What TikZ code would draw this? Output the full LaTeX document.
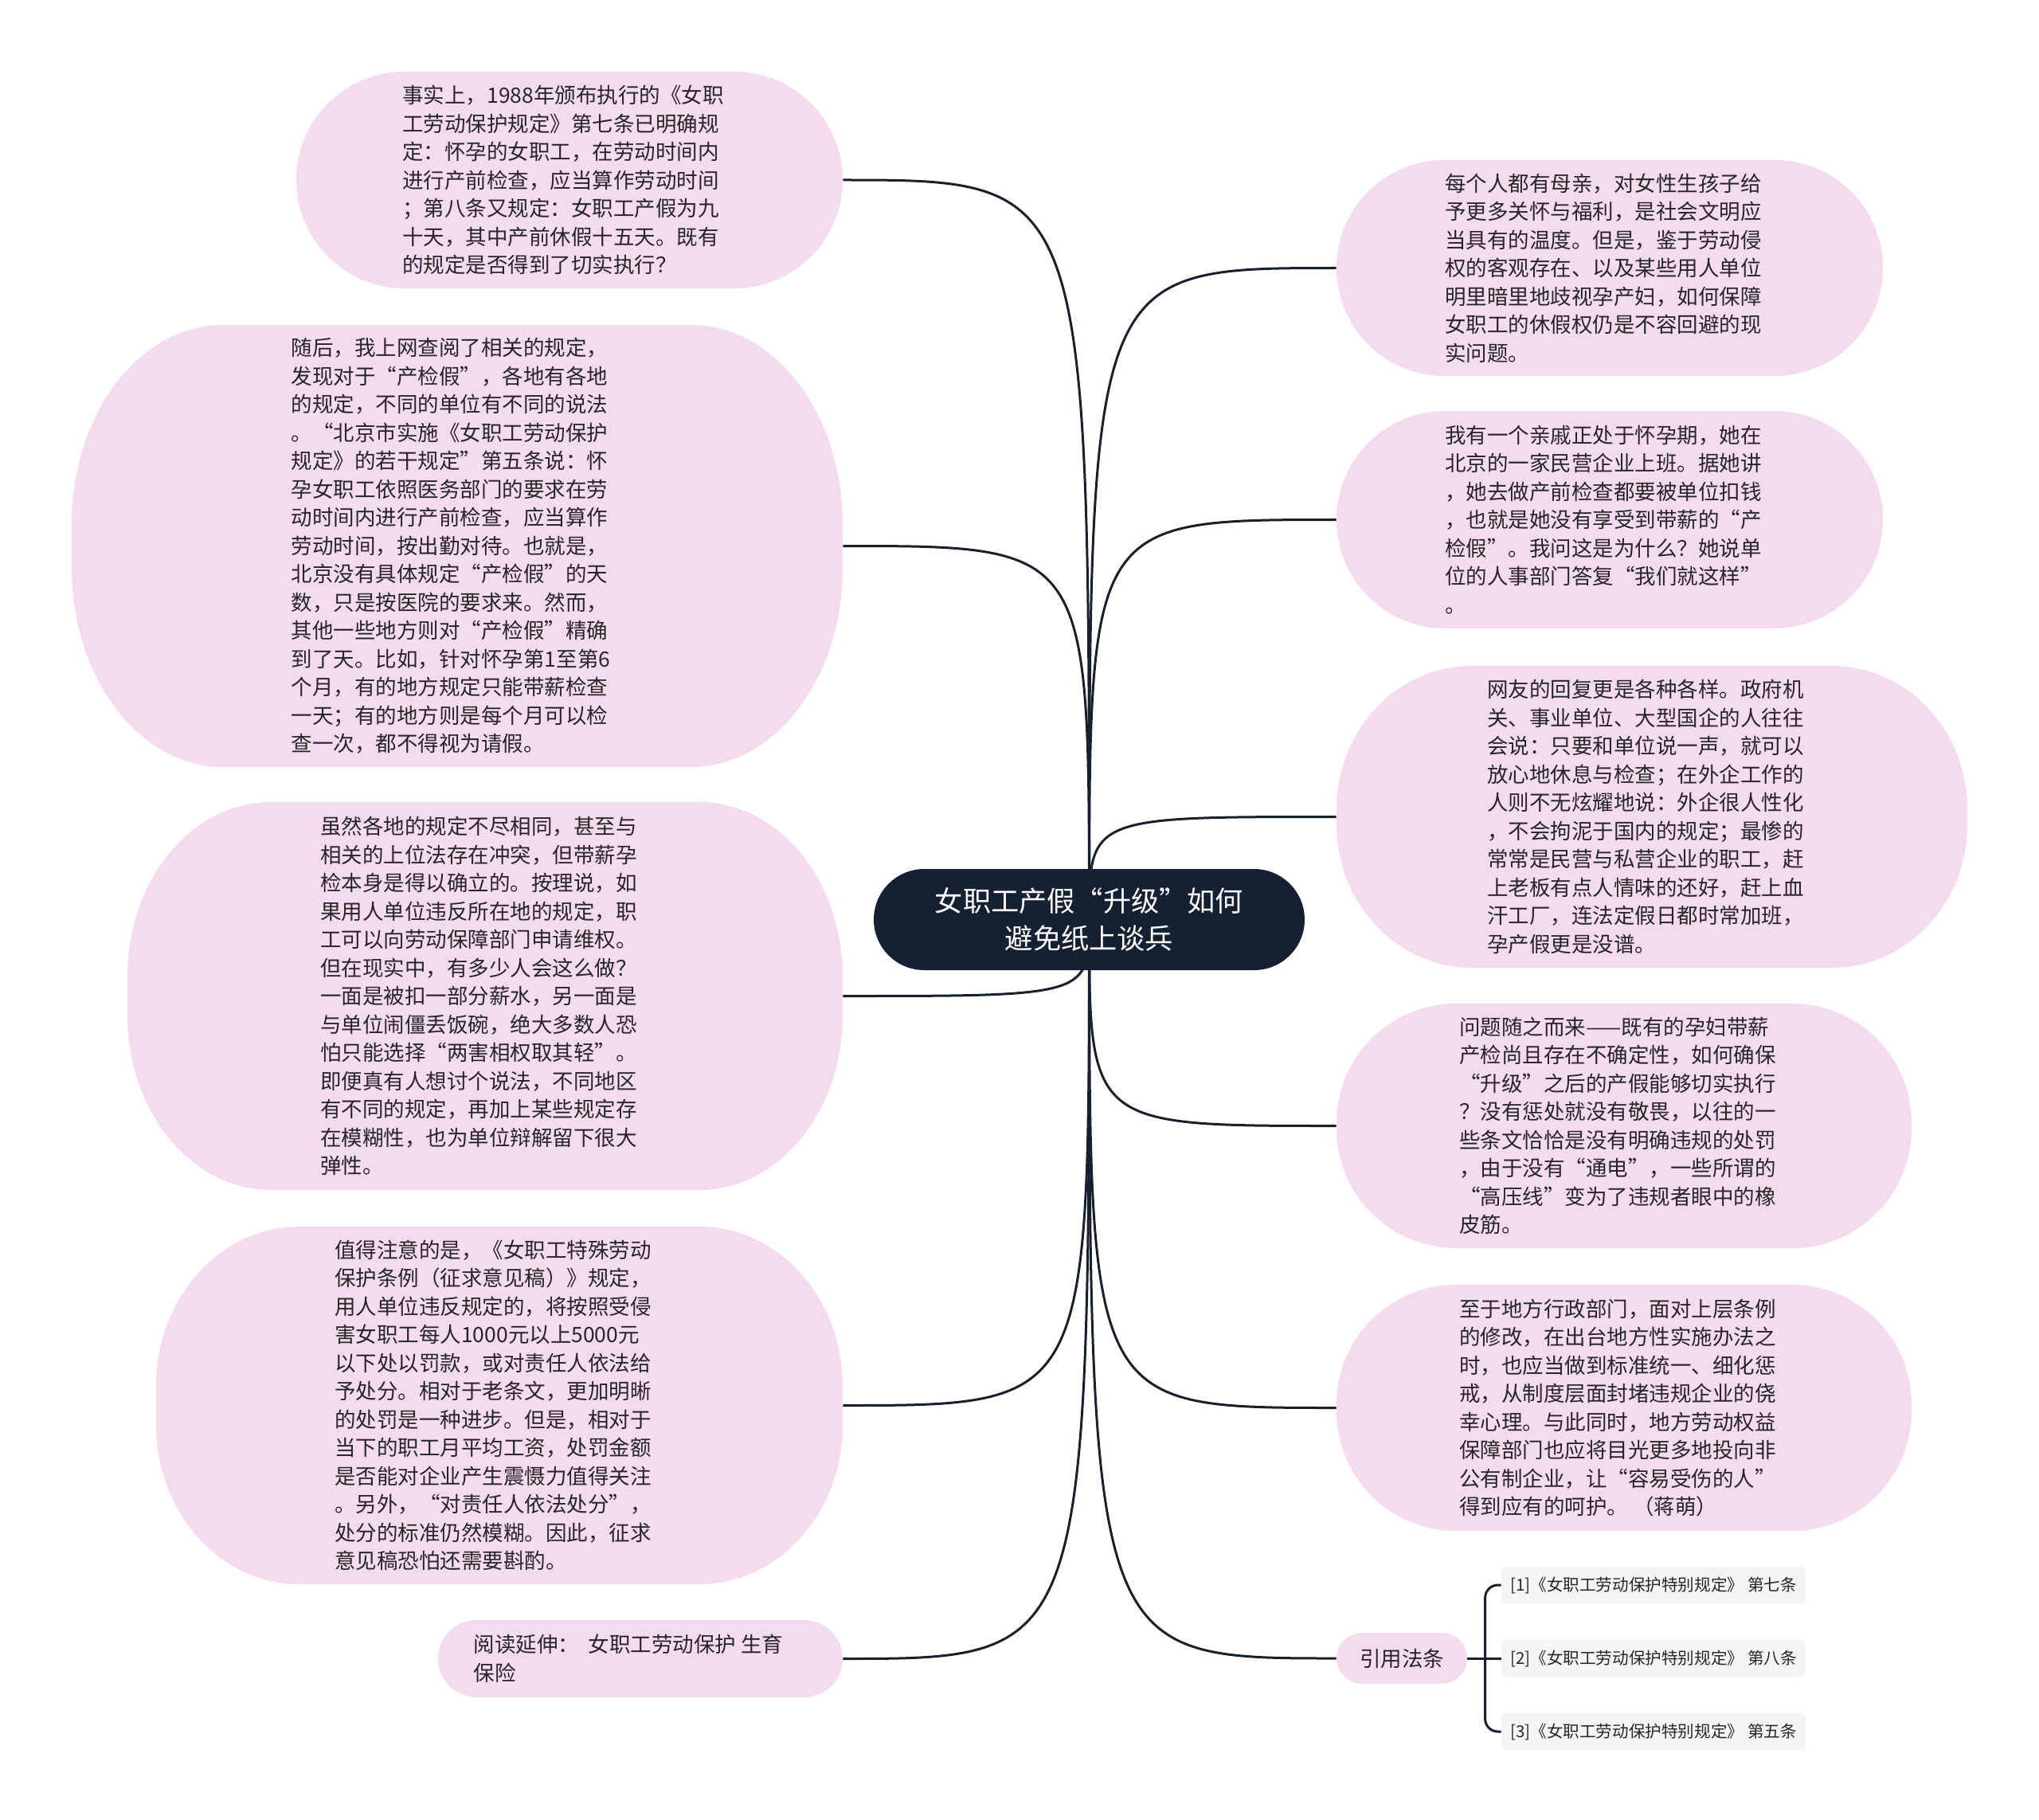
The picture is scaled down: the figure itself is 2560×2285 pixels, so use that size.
\documentclass[tikz,border=0pt]{standalone}
\usepackage{fontspec}
\setmainfont{Noto Sans CJK SC}
\usetikzlibrary{calc}
\pgfdeclarelayer{back}
\pgfdeclarelayer{bg}
\pgfsetlayers{back,bg,main}
\definecolor{pinkfill}{RGB}{244,219,240}
\definecolor{navyfill}{RGB}{21,32,51}
\definecolor{bodyink}{RGB}{38,38,38}
\definecolor{leaffill}{RGB}{245,245,245}
\definecolor{linec}{RGB}{24,32,48}
\tikzset{
  pink shape/.style={fill=pinkfill},
  pink text/.style={inner sep=0pt, align=left, text=bodyink, xshift=-4pt,
    font=\fontsize{13.25pt}{17.75pt}\selectfont},
  pinkb shape/.style={fill=pinkfill},
  pinkb text/.style={pink text, xshift=-3.5pt},
  pinkc shape/.style={fill=pinkfill},
  pinkc text/.style={pink text, xshift=4pt},
  root shape/.style={fill=navyfill},
  root text/.style={inner sep=0pt, align=center, text=white, font=\fontsize{17.6pt}{23.5pt}\selectfont},
  boxframe/.style={inner sep=0pt},
  leafnode/.style={fill=leaffill, rounded corners=4pt, inner sep=0pt, text=bodyink,
    font=\fontsize{10.3pt}{13pt}\selectfont, minimum width=191pt, minimum height=23.5pt},
  conn/.style={draw=linec, line width=1.5pt},
}
% name, x1, y1, x2, y2, rx, ry, kind, text
\newcommand\bubble[9]{%
  \fill[#8 shape] (#2,#3+#7) .. controls +(0,-0.5523*#7) and +(-0.5523*#6,0) .. (#2+#6,#3)
    -- (#4-#6,#3) .. controls +(0.5523*#6,0) and +(0,-0.5523*#7) .. (#4,#3+#7)
    -- (#4,#5-#7) .. controls +(0,0.5523*#7) and +(0.5523*#6,0) .. (#4-#6,#5)
    -- (#2+#6,#5) .. controls +(-0.5523*#6,0) and +(0,0.5523*#7) .. (#2,#5-#7) -- cycle;
  \node[boxframe, minimum width={(#4-#2)*0.5pt}, minimum height={(#5-#3)*0.5pt}]
    (#1) at ({(#2+#4)/2},{(#3+#5)/2}) {};
  \node[#8 text] (#1-t) at (#1.center) {#9};
}
\begin{document}
\begin{tikzpicture}[x=0.5pt,y=-0.5pt]
\begin{pgfonlayer}{back}
  \fill[white] (0,0) rectangle (2560,2285);
\end{pgfonlayer}
\useasboundingbox (0,0) rectangle (2560,2285);

\bubble{root}{1097}{1091}{1638}{1218}{63.5}{63.5}{root}{女职工产假“升级”如何\\避免纸上谈兵}

\bubble{n1}{372}{90}{1058}{362}{136}{136}{pink}{事实上，1988年颁布执行的《女职\\工劳动保护规定》第七条已明确规\\定：怀孕的女职工，在劳动时间内\\进行产前检查，应当算作劳动时间\\；第八条又规定：女职工产假为九\\十天，其中产前休假十五天。既有\\的规定是否得到了切实执行？}

\bubble{n2}{90}{408}{1058}{963}{190}{250}{pink}{随后，我上网查阅了相关的规定，\\发现对于“产检假”，各地有各地\\的规定，不同的单位有不同的说法\\。“北京市实施《女职工劳动保护\\规定》的若干规定”第五条说：怀\\孕女职工依照医务部门的要求在劳\\动时间内进行产前检查，应当算作\\劳动时间，按出勤对待。也就是，\\北京没有具体规定“产检假”的天\\数，只是按医院的要求来。然而，\\其他一些地方则对“产检假”精确\\到了天。比如，针对怀孕第1至第6\\个月，有的地方规定只能带薪检查\\一天；有的地方则是每个月可以检\\查一次，都不得视为请假。}

\bubble{n3}{160}{1007}{1058}{1494}{180}{219}{pink}{虽然各地的规定不尽相同，甚至与\\相关的上位法存在冲突，但带薪孕\\检本身是得以确立的。按理说，如\\果用人单位违反所在地的规定，职\\工可以向劳动保障部门申请维权。\\但在现实中，有多少人会这么做？\\一面是被扣一部分薪水，另一面是\\与单位闹僵丢饭碗，绝大多数人恐\\怕只能选择“两害相权取其轻”。\\即便真有人想讨个说法，不同地区\\有不同的规定，再加上某些规定存\\在模糊性，也为单位辩解留下很大\\弹性。}

\bubble{n4}{196}{1540}{1058}{1989}{180}{200}{pink}{值得注意的是，《女职工特殊劳动\\保护条例（征求意见稿）》规定，\\用人单位违反规定的，将按照受侵\\害女职工每人1000元以上5000元\\以下处以罚款，或对责任人依法给\\予处分。相对于老条文，更加明晰\\的处罚是一种进步。但是，相对于\\当下的职工月平均工资，处罚金额\\是否能对企业产生震慑力值得关注\\。另外，“对责任人依法处分”，\\处分的标准仍然模糊。因此，征求\\意见稿恐怕还需要斟酌。}

\bubble{n5}{550}{2034}{1058}{2131}{48.5}{48.5}{pinkb}{阅读延伸：\hspace{3pt} 女职工劳动保护 生育\\保险}

\bubble{r1}{1678}{201}{2364}{472}{135.5}{135.5}{pink}{每个人都有母亲，对女性生孩子给\\予更多关怀与福利，是社会文明应\\当具有的温度。但是，鉴于劳动侵\\权的客观存在、以及某些用人单位\\明里暗里地歧视孕产妇，如何保障\\女职工的休假权仍是不容回避的现\\实问题。}

\bubble{r2}{1678}{516}{2364}{789}{136.5}{136.5}{pink}{我有一个亲戚正处于怀孕期，她在\\北京的一家民营企业上班。据她讲\\，她去做产前检查都要被单位扣钱\\，也就是她没有享受到带薪的“产\\检假”。我问这是为什么？她说单\\位的人事部门答复“我们就这样”\\。}

\bubble{r3}{1678}{836}{2470}{1215}{170}{180}{pink}{网友的回复更是各种各样。政府机\\关、事业单位、大型国企的人往往\\会说：只要和单位说一声，就可以\\放心地休息与检查；在外企工作的\\人则不无炫耀地说：外企很人性化\\，不会拘泥于国内的规定；最惨的\\常常是民营与私营企业的职工，赶\\上老板有点人情味的还好，赶上血\\汗工厂，连法定假日都时常加班，\\孕产假更是没谱。}

\bubble{r4}{1678}{1260}{2400}{1567}{150}{150}{pink}{问题随之而来——既有的孕妇带薪\\产检尚且存在不确定性，如何确保\\“升级”之后的产假能够切实执行\\？没有惩处就没有敬畏，以往的一\\些条文恰恰是没有明确违规的处罚\\，由于没有“通电”，一些所谓的\\“高压线”变为了违规者眼中的橡\\皮筋。}

\bubble{r5}{1678}{1613}{2400}{1922}{150}{150}{pink}{至于地方行政部门，面对上层条例\\的修改，在出台地方性实施办法之\\时，也应当做到标准统一、细化惩\\戒，从制度层面封堵违规企业的侥\\幸心理。与此同时，地方劳动权益\\保障部门也应将目光更多地投向非\\公有制企业，让“容易受伤的人”\\得到应有的呵护。 （蒋萌）}

\bubble{ref}{1678}{2050}{1842}{2114}{32}{32}{pinkc}{引用法条}

\node[leafnode] (l1) at (2076,1990) {[1]《女职工劳动保护特别规定》 第七条};
\node[leafnode] (l2) at (2076,2082) {[2]《女职工劳动保护特别规定》 第八条};
\node[leafnode] (l3) at (2076,2174) {[3]《女职工劳动保护特别规定》 第五条};

\begin{pgfonlayer}{bg}
  \foreach \t in {n1,n2,n3,n4,n5}
    \draw[conn] (root.center) .. controls (root.center |- \t.east) .. (\t.east);
  \foreach \t in {r1,r2,r3,r4,r5,ref}
    \draw[conn] (root.center) .. controls (root.center |- \t.west) .. (\t.west);
  \draw[conn] (ref.east) -- (l2.west);
  \draw[conn, rounded corners=8pt] (l1.west) -- ++(-20,0) |- (l3.west);
\end{pgfonlayer}
\end{tikzpicture}
\end{document}
